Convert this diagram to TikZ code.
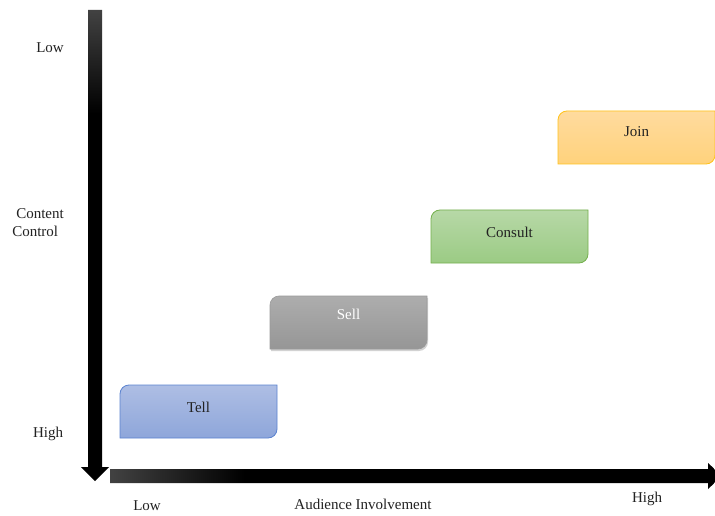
\documentclass[tikz,border=0pt]{standalone}
\usepackage{fontspec}
\setmainfont{Liberation Serif}
\usetikzlibrary{backgrounds,shadows,calc}
\definecolor{tellTop}{HTML}{AEBEE4}
\definecolor{tellBot}{HTML}{8EA6DA}
\definecolor{tellLine}{HTML}{5B83D0}
\definecolor{sellTop}{HTML}{ADADAD}
\definecolor{sellBot}{HTML}{969696}
\definecolor{sellLine}{HTML}{9A9A9A}
\definecolor{conTop}{HTML}{B7D8A7}
\definecolor{conBot}{HTML}{9BCB84}
\definecolor{conLine}{HTML}{75B04E}
\definecolor{joinTop}{HTML}{FFDB9E}
\definecolor{joinBot}{HTML}{FFD27C}
\definecolor{joinLine}{HTML}{FFC21A}
\definecolor{txt}{HTML}{222222}
\definecolor{axgray}{HTML}{424242}
\pgfdeclarehorizontalshading{haxis}{100bp}{color(0bp)=(axgray); color(25bp)=(axgray); color(36bp)=(black); color(100bp)=(black)}
\pgfdeclareverticalshading{vaxis}{100bp}{color(0bp)=(black); color(25bp)=(black); color(64bp)=(black); color(75bp)=(axgray); color(100bp)=(axgray)}
\newcommand{\diagshape}[2]{%
  \path[#2] (#1.south west) -- ([yshift=-9pt]#1.north west)
    arc[start angle=180,end angle=90,radius=9pt] -- (#1.north east)
    -- ([yshift=9pt]#1.south east)
    arc[start angle=0,end angle=-90,radius=9pt] -- cycle;}
\tikzset{
  box/.style={minimum width=157pt, minimum height=53pt, inner sep=0pt, outer sep=0pt},
  lbl/.style={font=\fontsize{15}{18}\selectfont, text=txt, inner sep=0pt},
  axlbl/.style={font=\fontsize{15}{18}\selectfont, text=txt, inner sep=0pt},
}
\begin{document}
\begin{tikzpicture}[x=1pt,y=1pt]
\useasboundingbox (0,0) rectangle (715,515);
\fill[white] (0,0) rectangle (715,515);
\clip (0,0) rectangle (715,515);

% axes
\shade[shading=vaxis]
  (88,505) -- (102,505) -- (102,48) -- (109,48) -- (95,34) -- (81,48) -- (88,48) -- cycle;
\shade[shading=haxis]
  (110,32) -- (708,32) -- (708,26) -- (722,39) -- (708,52) -- (708,46) -- (110,46) -- cycle;

% boxes
\node[box] (tell) at (198.5,103.5) {};
\node[box] (sell) at (348.5,192.5) {};
\node[box] (consult) at (509.5,278.5) {};
\node[box] (join) at (636.5,377.5) {};

\diagshape{tell}{top color=tellTop, bottom color=tellBot, draw=tellLine, line width=0.8pt}
\diagshape{sell}{top color=sellTop, bottom color=sellBot, draw=sellLine, line width=0.6pt,
  drop shadow={shadow xshift=1pt, shadow yshift=-2pt, opacity=0.35}}
\diagshape{consult}{top color=conTop, bottom color=conBot, draw=conLine, line width=0.8pt}
\diagshape{join}{top color=joinTop, bottom color=joinBot, draw=joinLine, line width=0.8pt}

\node[lbl] (tellt) at ($(tell.center)+(0,4.5)$) {Tell};
\node[lbl, text=white] (sellt) at ($(sell.center)+(0,8.5)$) {Sell};
\node[lbl] (consultt) at ($(consult.center)+(0,4.5)$) {Consult};
\node[lbl] (joint) at ($(join.center)+(0,5.5)$) {Join};

% axis labels
\node[axlbl] (ylow) at (50,467) {Low};
\node[axlbl, align=left] (ytitle) at (38,292.5) {\hspace*{4pt}Content\\Control};
\node[axlbl] (yhigh) at (48,81) {High};
\node[axlbl] (xlow) at (147,9) {Low};
\node[axlbl] (xtitle) at (363,11) {Audience Involvement};
\node[axlbl] (xhigh) at (647,16) {High};
\end{tikzpicture}
\end{document}
